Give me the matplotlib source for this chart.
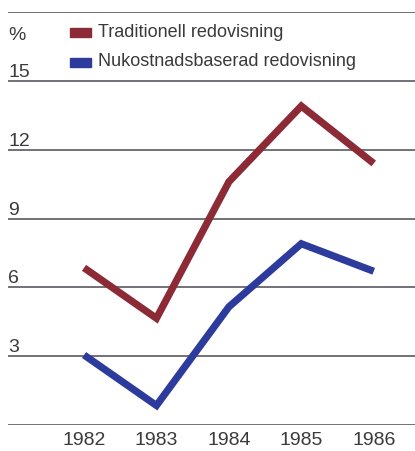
import matplotlib.pyplot as plt
from matplotlib.patches import Rectangle
from matplotlib.transforms import blended_transform_factory

plt.rcParams['font.family'] = ['Liberation Sans', 'DejaVu Sans']

years = [1982, 1983, 1984, 1985, 1986]
traditionell = [6.85, 4.65, 10.6, 13.9, 11.4]
nukostnad = [3.05, 0.85, 5.15, 7.9, 6.7]
y_ticks = [0, 3, 6, 9, 12, 15, 18]
y_labels = ['', '3', '6', '9', '12', '15', '']

RED = '#8c2a36'
BLUE = '#2c3b9c'
GRID = '#4a4a52'
TEXT = '#3a3a3a'

fig = plt.figure(figsize=(4.15, 4.51), dpi=100)
ax = fig.add_axes([8 / 415, 1 - 425 / 451, 1 - 8 / 415, (425 - 12) / 451])
ax.set_xlim(1980.95, 1986.57)
ax.set_ylim(0, 18)
ax.axis('off')
left_data = blended_transform_factory(ax.transAxes, ax.transData)

# horizontal rules with value labels sitting on top of them
for v, lab in zip(y_ticks, y_labels):
    ax.axhline(v, color=GRID, lw=1.1, zorder=1)
    if lab:
        ax.text(0.0, v + 0.17, lab, transform=left_data,
                ha='left', va='baseline', fontsize=14, color=TEXT)
# unit label under the top rule
ax.text(0.0, 16.8, '%', transform=left_data, ha='left', va='baseline',
        fontsize=14, color=TEXT)

ax.plot(years, traditionell, color=RED, lw=5.2, solid_joinstyle='miter',
        solid_capstyle='butt', zorder=3)
ax.plot(years, nukostnad, color=BLUE, lw=5.2, solid_joinstyle='miter',
        solid_capstyle='butt', zorder=3)

for yr in years:
    ax.text(yr, -0.3, str(yr), ha='center', va='top', fontsize=14, color=TEXT)

# legend drawn by hand in figure pixels
for ypix, col, lab in [(32.5, RED, 'Traditionell redovisning'),
                       (62, BLUE, 'Nukostnadsbaserad redovisning')]:
    fig.patches.append(Rectangle((70 / 415, 1 - (ypix + 4.5) / 451), 21 / 415, 9 / 451,
                                 transform=fig.transFigure, color=col))
    fig.text(98 / 415, 1 - ypix / 451, lab, ha='left', va='center', fontsize=13, color=TEXT)

fig.savefig('out.png', dpi=100, facecolor='white')
